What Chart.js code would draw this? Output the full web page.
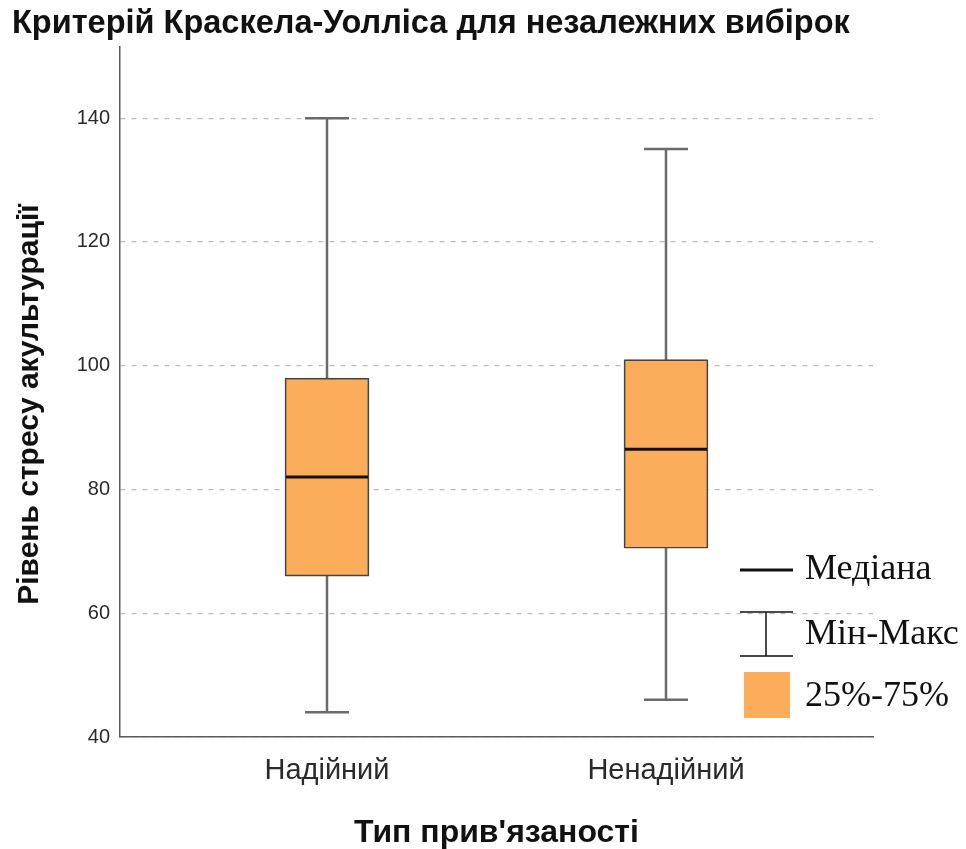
<!DOCTYPE html>
<html lang="uk">
<head>
<meta charset="utf-8">
<title>Критерій Краскела-Уолліса для незалежних вибірок</title>
<script src="https://cdn.jsdelivr.net/npm/chart.js@4.4.1/dist/chart.umd.min.js"></script>
<style>
  html, body { margin: 0; padding: 0; background: #ffffff; }
  canvas { display: block; }
</style>
</head>
<body>
<canvas id="chart" width="966" height="849"></canvas>
<script>
// Групи за типом прив'язаності
const categories = ['Надійний', 'Ненадійний'];

// Описова статистика рівня стресу акультурації для кожної групи
const minValues    = [44, 46];
const q1Values     = [66, 70.5];
const medianValues = [82, 86.5];
const q3Values     = [98, 101];
const maxValues    = [140, 135];

// Позначки осі значень
const yTicks = [40, 60, 80, 100, 120, 140];

// Підписи легенди
const legendLabels = ['Медіана', 'Мін-Макс', '25%-75%'];

const BOX_FILL = '#fbad5b';
const BOX_EDGE = '#444444';
const WHISKER = '#6a6a6a';

// Вуса (мін-макс) під прямокутниками
const whiskerPlugin = {
  id: 'whiskers',
  beforeDatasetsDraw(chart) {
    const { ctx } = chart;
    const xs = chart.scales.x, ys = chart.scales.y;
    ctx.save();
    ctx.strokeStyle = WHISKER;
    ctx.lineWidth = 2.5;
    categories.forEach((_, i) => {
      const x = xs.getPixelForValue(i);
      const yLo = ys.getPixelForValue(minValues[i]);
      const yHi = ys.getPixelForValue(maxValues[i]);
      const cap = 22;
      ctx.beginPath();
      ctx.moveTo(x, yLo); ctx.lineTo(x, yHi);
      ctx.moveTo(x - cap, yLo); ctx.lineTo(x + cap, yLo);
      ctx.moveTo(x - cap, yHi); ctx.lineTo(x + cap, yHi);
      ctx.stroke();
    });
    ctx.restore();
  },
  afterDatasetsDraw(chart) {
    // Лінія медіани поверх прямокутника
    const { ctx } = chart;
    const xs = chart.scales.x, ys = chart.scales.y;
    const meta = chart.getDatasetMeta(0);
    ctx.save();
    ctx.strokeStyle = '#111111';
    ctx.lineWidth = 3;
    categories.forEach((_, i) => {
      const bar = meta.data[i];
      const half = bar.width / 2;
      const x = xs.getPixelForValue(i);
      const y = ys.getPixelForValue(medianValues[i]);
      ctx.beginPath();
      ctx.moveTo(x - half + 1, y); ctx.lineTo(x + half - 1, y);
      ctx.stroke();
    });
    ctx.restore();
  }
};

// Власна легенда у правому нижньому куті
const boxLegendPlugin = {
  id: 'boxLegend',
  afterDraw(chart) {
    const { ctx, chartArea } = chart;
    const x0 = chartArea.right - 133;
    const tx = chartArea.right - 68;
    ctx.save();
    ctx.font = '36px "Liberation Serif", "Times New Roman", serif';
    ctx.fillStyle = '#111111';
    ctx.textBaseline = 'middle';
    ctx.textAlign = 'left';

    // Медіана
    const y = 570;
    ctx.strokeStyle = '#111111';
    ctx.lineWidth = 3;
    ctx.beginPath();
    ctx.moveTo(x0, y); ctx.lineTo(x0 + 53, y);
    ctx.stroke();
    ctx.fillText(legendLabels[0], tx, y);

    // Мін-Макс
    ctx.lineWidth = 1.5;
    const top = 612, bot = 656, cx = x0 + 26;
    ctx.beginPath();
    ctx.moveTo(x0, top); ctx.lineTo(x0 + 53, top);
    ctx.moveTo(x0, bot); ctx.lineTo(x0 + 53, bot);
    ctx.moveTo(cx, top); ctx.lineTo(cx, bot);
    ctx.stroke();
    ctx.fillText(legendLabels[1], tx, 635);

    // 25%-75%
    ctx.fillStyle = BOX_FILL;
    ctx.fillRect(x0 + 4, 672, 46, 46);
    ctx.fillStyle = '#111111';
    ctx.fillText(legendLabels[2], tx, 697);
    ctx.restore();
  }
};

const boxData = categories.map((_, i) => ({ x: i, y: [q1Values[i], q3Values[i]] }));

new Chart(document.getElementById('chart'), {
  type: 'bar',
  data: {
    datasets: [{
      data: boxData,
      backgroundColor: BOX_FILL,
      borderColor: BOX_EDGE,
      borderWidth: 1.7,
      borderSkipped: false,
      borderRadius: 1,
      barThickness: 84
    }]
  },
  options: {
    responsive: false,
    animation: false,
    devicePixelRatio: 1,
    layout: { padding: { left: 12, right: 93, top: 0, bottom: 0 } },
    plugins: {
      legend: { display: false },
      tooltip: { enabled: false },
      title: {
        display: true,
        text: 'Критерій Краскела-Уолліса для незалежних вибірок',
        align: 'start',
        color: '#111111',
        font: { family: '"Liberation Sans", Arial, sans-serif', size: 32.5, weight: 'bold' },
        padding: { top: 5, bottom: 3 }
      }
    },
    scales: {
      x: {
        type: 'linear',
        offset: false,
        min: -0.6106,
        max: 1.6106,
        afterBuildTicks(scale) {
          scale.ticks = categories.map((_, i) => ({ value: i }));
        },
        afterFit(scale) { scale.height = 112; },
        ticks: {
          callback: (v) => categories[v] ?? '',
          color: '#2a2a2a',
          padding: 17,
          maxRotation: 0,
          font: { family: '"Liberation Sans", Arial, sans-serif', size: 29 }
        },
        grid: { display: false, drawTicks: false },
        border: { display: true, color: '#5a5a5a', width: 1.5 },
        title: {
          display: true,
          text: "Тип прив'язаності",
          color: '#111111',
          font: { family: '"Liberation Sans", Arial, sans-serif', size: 32, weight: 'bold' },
          padding: { top: 4, bottom: -3 }
        }
      },
      y: {
        type: 'linear',
        min: 40,
        max: 151.5,
        afterBuildTicks(scale) {
          scale.ticks = yTicks.map(v => ({ value: v }));
        },
        afterFit(scale) { scale.width = 108; },
        ticks: {
          color: '#2a2a2a',
          padding: 10,
          font: { family: '"Liberation Sans", Arial, sans-serif', size: 20 }
        },
        grid: {
          drawTicks: false,
          color: '#bababa',
          lineWidth: 1.3
        },
        border: { display: true, color: '#5a5a5a', width: 1.5, dash: [5, 6] },
        title: {
          display: true,
          text: 'Рівень стресу акультурації   ',
          color: '#111111',
          font: { family: '"Liberation Sans", Arial, sans-serif', size: 30, weight: 'bold' },
          padding: { top: 0, bottom: 4 }
        }
      }
    }
  },
  plugins: [whiskerPlugin, boxLegendPlugin]
});
</script>
</body>
</html>
